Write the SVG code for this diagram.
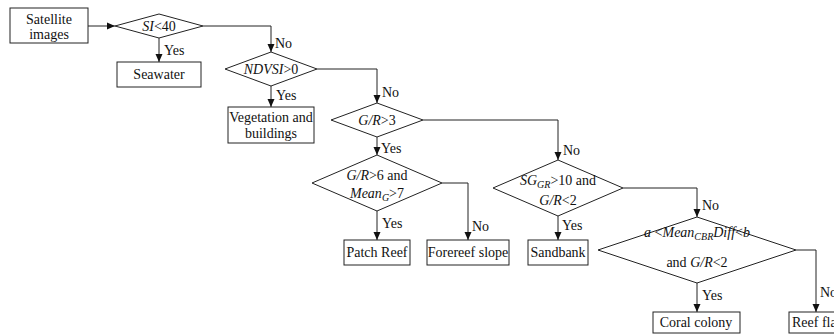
<svg xmlns="http://www.w3.org/2000/svg" width="834" height="334" viewBox="0 0 834 334">
  <style>
    text { font-family: "Liberation Serif", "Times New Roman", serif; font-size: 14px; fill: #111; }
    .c { text-anchor: middle; }
    .i { font-style: italic; }
    .sub { font-size: 10px; font-style: italic; }
    .box, .dia { fill: #fff; stroke: #222; stroke-width: 1; }
    .ln { fill: none; stroke: #222; stroke-width: 1; }
  </style>
  <defs>
    <marker id="arrow" markerUnits="userSpaceOnUse" markerWidth="8" markerHeight="8" refX="8" refY="4" orient="auto">
      <path d="M0,0.5 L8,4 L0,7.5 z" fill="#111"/>
    </marker>
  </defs>
  <rect width="834" height="334" fill="#fff"/>

  <!-- connectors -->
  <g id="connectors">
    <path class="ln" d="M88,26 H115" marker-end="url(#arrow)"/>
    <path class="ln" d="M159,38 V62" marker-end="url(#arrow)"/>
    <path class="ln" d="M203,26 H271 V52" marker-end="url(#arrow)"/>
    <path class="ln" d="M271,86 V107" marker-end="url(#arrow)"/>
    <path class="ln" d="M317,69 H377 V103" marker-end="url(#arrow)"/>
    <path class="ln" d="M377,137 V155" marker-end="url(#arrow)"/>
    <path class="ln" d="M377,211 V240" marker-end="url(#arrow)"/>
    <path class="ln" d="M442,183 H468 V240" marker-end="url(#arrow)"/>
    <path class="ln" d="M423,120 H558 V160" marker-end="url(#arrow)"/>
    <path class="ln" d="M558,216 V240" marker-end="url(#arrow)"/>
    <path class="ln" d="M623,188 H697 V217" marker-end="url(#arrow)"/>
    <path class="ln" d="M697,283 V312" marker-end="url(#arrow)"/>
    <path class="ln" d="M796,250 H816 V312" marker-end="url(#arrow)"/>

    <text x="164" y="55">Yes</text>
    <text x="275" y="48">No</text>
    <text x="276" y="100">Yes</text>
    <text x="382" y="97">No</text>
    <text x="381" y="153">Yes</text>
    <text x="563" y="155">No</text>
    <text x="382" y="228">Yes</text>
    <text x="472" y="231">No</text>
    <text x="562" y="230">Yes</text>
    <text x="702" y="210">No</text>
    <text x="702" y="300">Yes</text>
    <text x="820" y="297">No</text>
  </g>

  <!-- start -->
  <g id="satellite-images">
    <rect class="box" x="10" y="8" width="78" height="35"/>
    <text class="c" x="49" y="24">Satellite</text>
    <text class="c" x="49" y="39">images</text>
  </g>

  <!-- decisions -->
  <g id="si-test">
    <polygon class="dia" points="115,26 159,14 203,26 159,38"/>
    <text class="c" x="159" y="31"><tspan class="i">SI</tspan>&lt;40</text>
  </g>
  <g id="ndvsi-test">
    <polygon class="dia" points="225,69 271,52 317,69 271,86"/>
    <text class="c" x="271" y="74"><tspan class="i">NDVSI</tspan>&gt;0</text>
  </g>
  <g id="gr3-test">
    <polygon class="dia" points="331,120 377,103 423,120 377,137"/>
    <text class="c" x="377" y="125"><tspan class="i">G/R</tspan>&gt;3</text>
  </g>
  <g id="gr6-test">
    <polygon class="dia" points="312,183 377,155 442,183 377,211"/>
    <text class="c" x="377" y="180"><tspan class="i">G/R</tspan>&gt;6 and</text>
    <text class="c" x="377" y="198"><tspan class="i">Mean</tspan><tspan class="sub" dy="3">G</tspan><tspan dy="-3">&gt;7</tspan></text>
  </g>
  <g id="sg-test">
    <polygon class="dia" points="493,188 558,160 623,188 558,216"/>
    <text class="c" x="558" y="185"><tspan class="i">SG</tspan><tspan class="sub" dy="3">GR</tspan><tspan dy="-3">&gt;10 and</tspan></text>
    <text class="c" x="558" y="205"><tspan class="i">G/R</tspan>&lt;2</text>
  </g>
  <g id="cbr-test">
    <polygon class="dia" points="598,250 697,217 796,250 697,283"/>
    <text class="c" x="697" y="237"><tspan class="i">a</tspan> &lt;<tspan class="i">Mean</tspan><tspan class="sub" dy="3">CBR</tspan><tspan class="i" dy="-3">Diff</tspan>&lt;<tspan class="i">b</tspan></text>
    <text class="c" x="697" y="267">and <tspan class="i">G/R</tspan>&lt;2</text>
  </g>

  <!-- classes -->
  <g id="seawater">
    <rect class="box" x="117" y="62" width="84" height="25"/>
    <text class="c" x="159" y="79">Seawater</text>
  </g>
  <g id="vegetation-buildings">
    <rect class="box" x="228" y="107" width="86" height="36"/>
    <text class="c" x="271" y="122">Vegetation and</text>
    <text class="c" x="271" y="138">buildings</text>
  </g>
  <g id="patch-reef">
    <rect class="box" x="344" y="240" width="66" height="25"/>
    <text class="c" x="377" y="257">Patch Reef</text>
  </g>
  <g id="forereef-slope">
    <rect class="box" x="427" y="240" width="82" height="25"/>
    <text class="c" x="468" y="257">Forereef slope</text>
  </g>
  <g id="sandbank">
    <rect class="box" x="528" y="240" width="60" height="25"/>
    <text class="c" x="558" y="257">Sandbank</text>
  </g>
  <g id="coral-colony">
    <rect class="box" x="653" y="312" width="87" height="21"/>
    <text class="c" x="696" y="327">Coral colony</text>
  </g>
  <g id="reef-flat">
    <rect class="box" x="789" y="312" width="60" height="21"/>
    <text x="792" y="327">Reef flat</text>
  </g>
</svg>
